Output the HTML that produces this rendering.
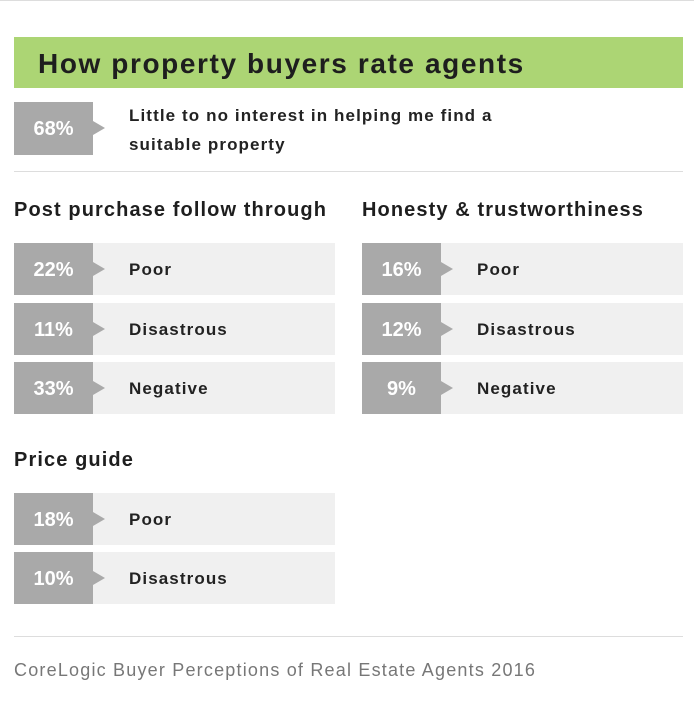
<!DOCTYPE html>
<html><head><style>
body{margin:0;width:694px;height:720px;background:#fff;font-family:"Liberation Sans",sans-serif;position:relative;overflow:hidden}
.a{position:absolute}
.top{left:0;top:0;width:694px;height:1px;background:#ddd}
.banner{left:14px;top:37px;width:669px;height:51px;background:#acd574;font-weight:bold;font-size:28px;color:#1e1e1e;line-height:53px;padding-left:24px;box-sizing:border-box;letter-spacing:1.6px}
.row{position:absolute;width:321px;height:52px;background:#f0f0f0}
.num{position:absolute;left:0;top:0;width:79px;height:52px;background:#a9a9a9;color:#fff;font-weight:bold;font-size:20px;line-height:54px;text-align:center}
.num:after{content:"";position:absolute;left:79px;top:19px;border-left:12px solid #a9a9a9;border-top:7px solid transparent;border-bottom:7px solid transparent}
.lab{position:absolute;left:115px;top:0;line-height:54px;font-weight:bold;font-size:17px;color:#222;letter-spacing:1.1px}
.h{position:absolute;font-weight:bold;font-size:20px;color:#1e1e1e;letter-spacing:1.1px}
.div{position:absolute;left:14px;width:669px;height:1px;background:#ddd}
</style></head><body>
<div class="a top"></div>
<div class="a banner">How property buyers rate agents</div>
<div class="row" style="left:14px;top:102px;width:79px;height:53px;background:none"><div class="num" style="height:53px">68%</div></div>
<div class="a" style="left:129px;top:101px;font-weight:bold;font-size:17px;line-height:29px;color:#222;letter-spacing:1.1px">Little to no interest in helping me find a<br>suitable property</div>
<div class="div" style="top:171px"></div>
<div class="h" style="left:14px;top:199px">Post purchase follow through</div>
<div class="h" style="left:362px;top:199px">Honesty &amp; trustworthiness</div>
<div class="row" style="left:14px;top:243px"><div class="num">22%</div><div class="lab">Poor</div></div>
<div class="row" style="left:14px;top:303px"><div class="num">11%</div><div class="lab">Disastrous</div></div>
<div class="row" style="left:14px;top:362px"><div class="num">33%</div><div class="lab">Negative</div></div>
<div class="row" style="left:362px;top:243px"><div class="num">16%</div><div class="lab">Poor</div></div>
<div class="row" style="left:362px;top:303px"><div class="num">12%</div><div class="lab">Disastrous</div></div>
<div class="row" style="left:362px;top:362px"><div class="num">9%</div><div class="lab">Negative</div></div>
<div class="h" style="left:14px;top:449px">Price guide</div>
<div class="row" style="left:14px;top:493px"><div class="num">18%</div><div class="lab">Poor</div></div>
<div class="row" style="left:14px;top:552px"><div class="num">10%</div><div class="lab">Disastrous</div></div>
<div class="div" style="top:636px"></div>
<div class="a" style="left:14px;top:660px;font-size:18px;color:#777;letter-spacing:1.2px">CoreLogic Buyer Perceptions of Real Estate Agents 2016</div>
</body></html>
